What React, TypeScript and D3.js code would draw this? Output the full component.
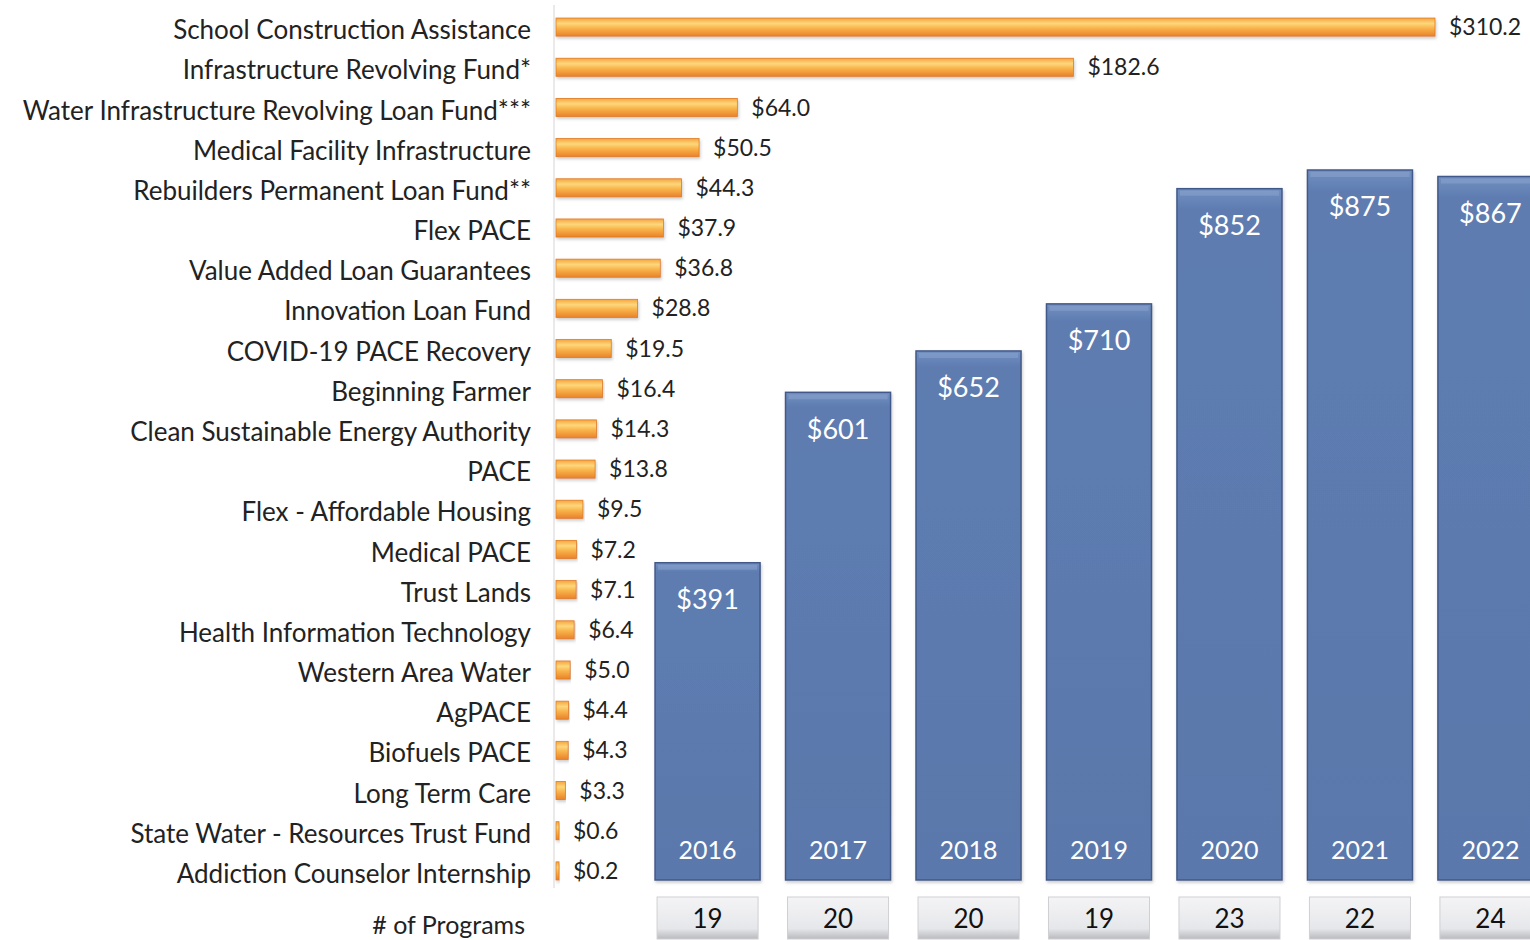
import React from "react";
import * as d3 from "d3";

const programs = [
  "School Construction Assistance",
  "Infrastructure Revolving Fund*",
  "Water Infrastructure Revolving Loan Fund***",
  "Medical Facility Infrastructure",
  "Rebuilders Permanent Loan Fund**",
  "Flex PACE",
  "Value Added Loan Guarantees",
  "Innovation Loan Fund",
  "COVID-19 PACE Recovery",
  "Beginning Farmer",
  "Clean Sustainable Energy Authority",
  "PACE",
  "Flex - Affordable Housing",
  "Medical PACE",
  "Trust Lands",
  "Health Information Technology",
  "Western Area Water",
  "AgPACE",
  "Biofuels PACE",
  "Long Term Care",
  "State Water - Resources Trust Fund",
  "Addiction Counselor Internship",
];
const programValues = [310.2, 182.6, 64.0, 50.5, 44.3, 37.9, 36.8, 28.8, 19.5, 16.4, 14.3, 13.8, 9.5, 7.2, 7.1, 6.4, 5.0, 4.4, 4.3, 3.3, 0.6, 0.2];

const years = ["2016", "2017", "2018", "2019", "2020", "2021", "2022"];
const yearTotals = [391, 601, 652, 710, 852, 875, 867];
const programCounts = [19, 20, 20, 19, 23, 22, 24];

const W = 1530;
const H = 940;
const FONT = "Lato, 'Open Sans', sans-serif";

export default function App() {
  const x = d3.scaleLinear().domain([0, 310.2]).range([556, 1435]);
  const y = d3.scaleBand().domain(programs).range([8, 890]).paddingInner(0.55).paddingOuter(0.25);

  const xb = d3.scaleBand().domain(years).range([642, 1556]).paddingInner(0.195).paddingOuter(0.1);
  const yb = d3.scaleLinear().domain([0, 875]).range([880, 170]);

  return (
    <svg width={W} height={H} style={{ position: "absolute", left: 0, top: 0, background: "#fff" }} fontFamily={FONT}>
      <defs>
        <linearGradient id="og" x1="0" y1="0" x2="0" y2="1">
          <stop offset="0" stopColor="#f5a53f" />
          <stop offset="0.3" stopColor="#fdd77c" />
          <stop offset="0.55" stopColor="#f9b54c" />
          <stop offset="1" stopColor="#e9822a" />
        </linearGradient>
        <linearGradient id="bg" x1="0" y1="0" x2="0" y2="1">
          <stop offset="0" stopColor="#7290c0" />
          <stop offset="0.03" stopColor="#5e7cb1" />
          <stop offset="1" stopColor="#5a78ab" />
        </linearGradient>
        <linearGradient id="gg" x1="0" y1="0" x2="0" y2="1">
          <stop offset="0" stopColor="#f4f4f6" />
          <stop offset="0.75" stopColor="#e6e7ea" />
          <stop offset="1" stopColor="#b9babd" />
        </linearGradient>
        <filter id="sh" x="-5%" y="-30%" width="110%" height="170%">
          <feDropShadow dx="1" dy="2" stdDeviation="1.5" floodColor="#999" floodOpacity="0.5" />
        </filter>
      </defs>

      <line x1={554} x2={554} y1={5} y2={888} stroke="#e3e3e3" strokeWidth={1.5} />

      {programs.map((p, i) => {
        const yy = y(p)!;
        const bh = y.bandwidth();
        const v = programValues[i];
        const w = Math.max(x(v) - x(0), 3);
        return (
          <g key={p}>
            <text x={531} y={yy + bh / 2 + 3} dy="0.35em" textAnchor="end" fontSize={26} fill="#222">
              {p}
            </text>
            <rect x={x(0)} y={yy} width={w} height={bh} fill="url(#og)" stroke="#e07b22" strokeWidth={0.8} filter="url(#sh)" />
            <text x={x(0) + w + 14} y={yy + bh / 2} dy="0.35em" fontSize={23} fill="#222">
              ${v.toFixed(1)}
            </text>
          </g>
        );
      })}

      {years.map((yr, i) => {
        const bx = xb(yr)!;
        const bw = xb.bandwidth();
        const top = yb(yearTotals[i]);
        const bottom = yb(0);
        return (
          <g key={yr}>
            <rect x={bx} y={top} width={bw} height={bottom - top} fill="url(#bg)" stroke="#41598a" strokeWidth={1.5} filter="url(#sh)" />
            <rect x={bx + 3} y={top + 2} width={bw - 6} height={5} fill="#8ea6cf" opacity={0.5} />
            <text x={bx + bw / 2} y={top + 37} dy="0.35em" textAnchor="middle" fontSize={27} fill="#fff">
              ${yearTotals[i]}
            </text>
            <text x={bx + bw / 2} y={bottom - 30} dy="0.35em" textAnchor="middle" fontSize={25} fill="#fff">
              {yr}
            </text>
            <rect x={bx + 2} y={897} width={bw - 4} height={42} fill="url(#gg)" stroke="#d0d0d4" strokeWidth={1} />
            <text x={bx + bw / 2} y={919} dy="0.35em" textAnchor="middle" fontSize={26} fill="#111">
              {programCounts[i]}
            </text>
          </g>
        );
      })}

      <text x={525} y={925} dy="0.35em" textAnchor="end" fontSize={25} fill="#222">
        # of Programs
      </text>
    </svg>
  );
}
